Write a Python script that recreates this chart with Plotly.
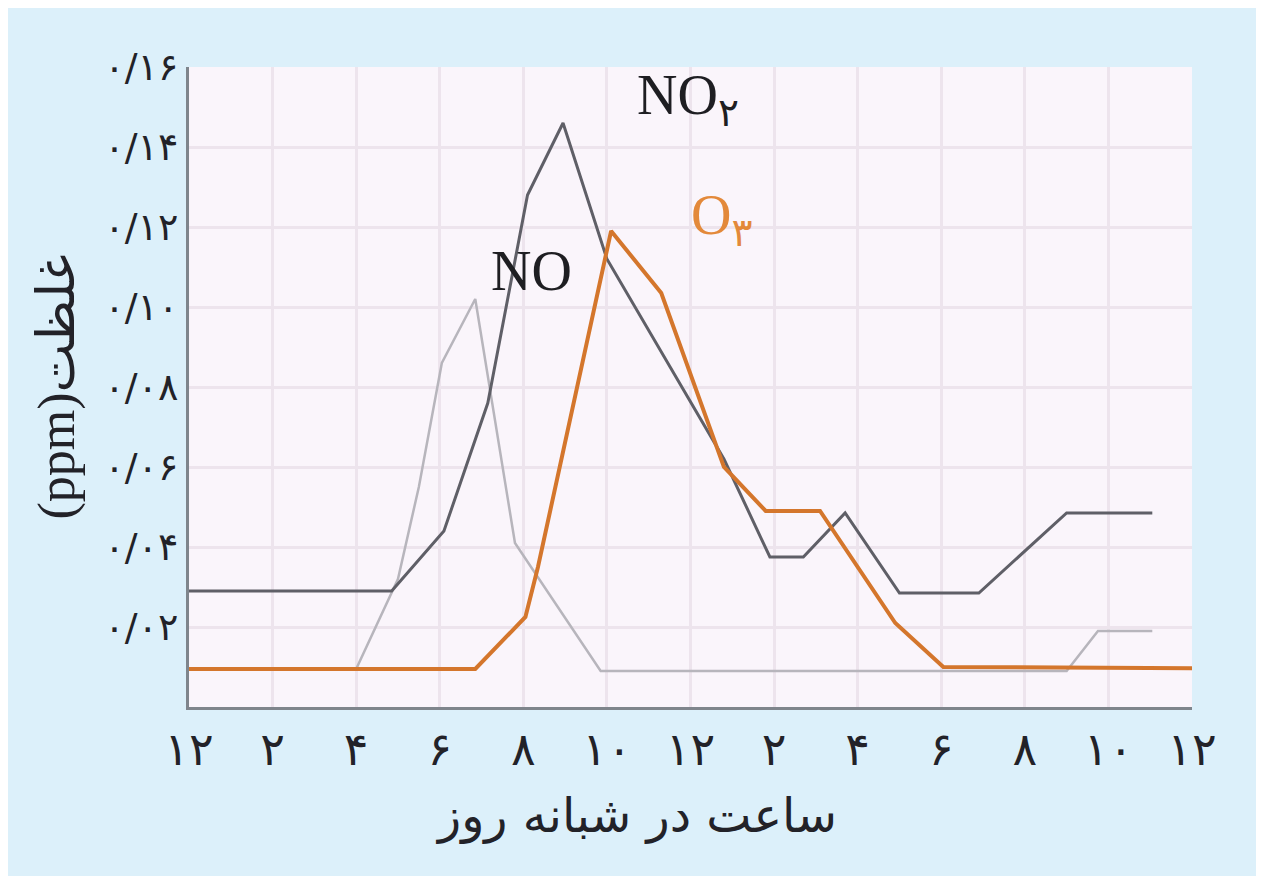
import plotly.graph_objects as go

# ----------------------------
# Data (hours since midnight, ppm)
# ----------------------------
no2_hours = [0, 4.85, 6.1, 7.15, 8.1, 8.95, 10.0, 12.8, 13.9, 14.7, 15.7, 17.0, 18.9, 21.0, 23.05]
no2_ppm = [0.029, 0.029, 0.044, 0.076, 0.128, 0.146, 0.112, 0.062, 0.0375, 0.0375, 0.0485, 0.0285, 0.0285, 0.0485, 0.0485]

no_hours = [0, 4.0, 5.0, 5.5, 6.05, 6.85, 7.8, 9.85, 21.0, 21.75, 23.05]
no_ppm = [0.0095, 0.0095, 0.032, 0.055, 0.086, 0.102, 0.041, 0.009, 0.009, 0.019, 0.019]

o3_hours = [0, 6.85, 8.05, 8.35, 10.1, 11.3, 12.8, 13.8, 15.1, 16.9, 18.05, 24]
o3_ppm = [0.0095, 0.0095, 0.0225, 0.035, 0.119, 0.1035, 0.06, 0.049, 0.049, 0.021, 0.0100, 0.0097]

x_tickvals = [0, 2, 4, 6, 8, 10, 12, 14, 16, 18, 20, 22, 24]
x_ticktext = ["۱۲", "۲", "۴", "۶", "۸", "۱۰", "۱۲", "۲", "۴", "۶", "۸", "۱۰", "۱۲"]
y_tickvals = [0.02, 0.04, 0.06, 0.08, 0.10, 0.12, 0.14, 0.16]
y_ticktext = ["۰/۰۲", "۰/۰۴", "۰/۰۶", "۰/۰۸", "۰/۱۰", "۰/۱۲", "۰/۱۴", "۰/۱۶"]

PERSIAN_FONT = "DejaVu Sans"
SERIF_FONT = "Liberation Serif, DejaVu Sans"
INK = "#222228"

fig = go.Figure()

fig.add_trace(go.Scatter(x=no_hours, y=no_ppm, mode="lines", name="NO",
                         line=dict(color="#b7b5bc", width=2.5), showlegend=False))
fig.add_trace(go.Scatter(x=no2_hours, y=no2_ppm, mode="lines", name="NO2",
                         line=dict(color="#5f5f67", width=3), showlegend=False))
fig.add_trace(go.Scatter(x=o3_hours, y=o3_ppm, mode="lines", name="O3",
                         line=dict(color="#d4762c", width=4), showlegend=False))

# ----------------------------
# Series labels
# ----------------------------
fig.add_annotation(x=8.2, y=0.109, text="NO", showarrow=False,
                   font=dict(family=SERIF_FONT, size=56, color="#1e1e22"))
fig.add_annotation(x=11.95, y=0.152, text="NO<sub>۲</sub>", showarrow=False,
                   font=dict(family=SERIF_FONT, size=56, color="#1e1e22"))
fig.add_annotation(x=12.75, y=0.122, text="O<sub>۳</sub>", showarrow=False,
                   font=dict(family=SERIF_FONT, size=56, color="#e3893a"))

# x axis caption (sits a little left of the plot centre in the original)
fig.add_annotation(xref="paper", yref="paper", x=0.446, y=-0.17,
                   xanchor="center", yanchor="middle",
                   text="ساعت در شبانه روز", showarrow=False,
                   font=dict(family=PERSIAN_FONT, size=48, color=INK))

fig.update_layout(
    width=1256,
    height=868,
    margin=dict(l=181, r=72, t=59, b=169),
    paper_bgcolor="#dcf0fa",
    plot_bgcolor="#faf5fb",
    xaxis=dict(
        range=[0, 24],
        tickmode="array",
        tickvals=x_tickvals,
        ticktext=x_ticktext,
        tickfont=dict(family=PERSIAN_FONT, size=46, color=INK),
        showgrid=True,
        gridcolor="#ede4ed",
        gridwidth=3,
        zeroline=False,
        showline=True,
        linecolor="#7f858c",
        linewidth=3,
        ticks="",
    ),
    yaxis=dict(
        range=[0, 0.16],
        tickmode="array",
        tickvals=y_tickvals,
        ticktext=y_ticktext,
        tickfont=dict(family=PERSIAN_FONT, size=38, color=INK),
        showgrid=True,
        gridcolor="#ede4ed",
        gridwidth=3,
        zeroline=False,
        showline=True,
        linecolor="#7f858c",
        linewidth=3,
        ticks="",
        title=dict(text="(ppm)غلظت",
                   font=dict(family=SERIF_FONT, size=52, color=INK),
                   standoff=14),
    ),
)

fig.write_html("out.html")
